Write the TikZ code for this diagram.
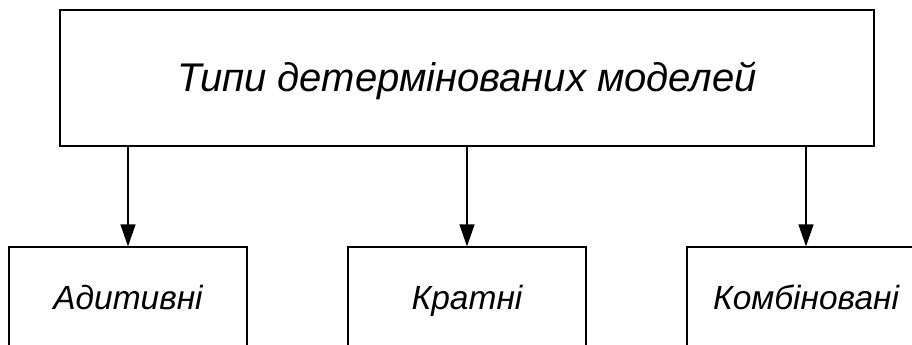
\documentclass[tikz,border=0pt]{standalone}
\usepackage{fontspec}
\setmainfont{Liberation Sans}
\usetikzlibrary{arrows.meta}

\tikzset{
  typebox/.style={rectangle, draw, line width=1.2pt, inner sep=0pt},
  subbox/.style={typebox, minimum width=238pt, minimum height=100pt,
                 text height=24pt, text depth=0pt, font=\itshape\fontsize{33.5}{40}\selectfont},
  link/.style={line width=1.2pt, -{Triangle[length=22pt,width=15pt]}}
}

\begin{document}
\begin{tikzpicture}[x=1pt,y=-1pt]
      % Variables
      \def \boxy  {297}

      % Frame
      \clip (0,0) rectangle (912,345);

      % Rectangles
      \node[typebox, minimum width=814pt, minimum height=136pt, text height=26pt, text depth=0pt,
            font=\itshape\fontsize{40}{46}\selectfont] (types) at (467,78) {Типи детермінованих моделей};
      \node[subbox] (add)  at (128,\boxy) {Адитивні};
      \node[subbox] (mult) at (467,\boxy) {Кратні};
      \node[subbox] (comb) at (806,\boxy) {Комбіновані};

      % Arrows
      \draw[link] (types.south -| add.north) -- (add.north);
      \draw[link] (types.south -| mult.north) -- (mult.north);
      \draw[link] (types.south -| comb.north) -- (comb.north);

\end{tikzpicture}
\end{document}
